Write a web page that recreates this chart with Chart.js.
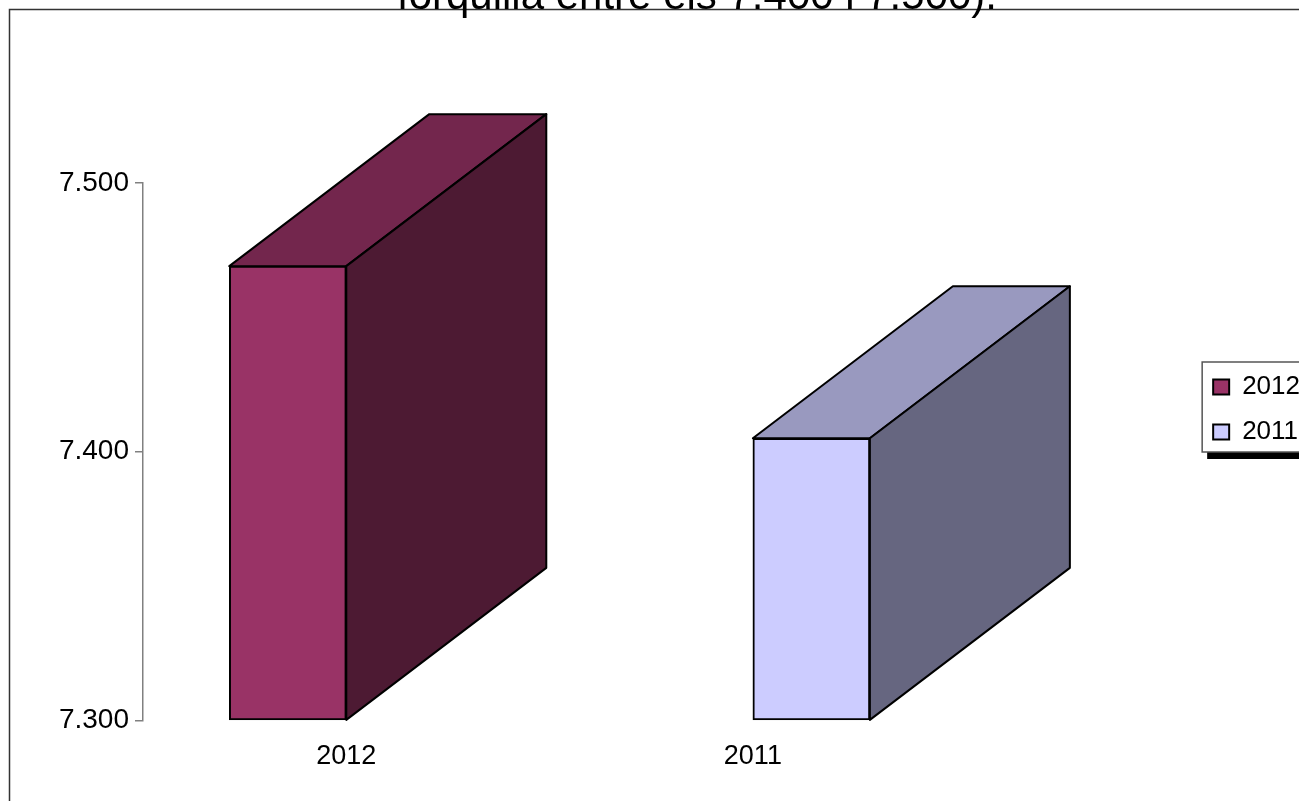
<!DOCTYPE html>
<html>
<head>
<meta charset="utf-8">
<script src="https://cdn.jsdelivr.net/npm/chart.js@4/dist/chart.umd.min.js"></script>
<style>
    body { margin: 0; background: #ffffff; overflow: hidden; }
    #wrap { width: 1394px; height: 801px; }
</style>
</head>
<body>
<div id="wrap"><canvas id="chart3d" width="1394" height="801"></canvas></div>
<script>
const categories = ['2012', '2011'];
const values = [7469, 7405];
const yTicks = [7300, 7400, 7500];
const titleText = 'forquilla entre els 7.400 i 7.500).';

const frontColors = ['#993366', '#CCCCFF'];
const topColors = ['#73264D', '#9999BF'];
const sideColors = ['#4D1A33', '#666680'];

function formatThousands(v) {
    return String(Math.round(v)).replace(/\B(?=(\d{3})+(?!\d))/g, '.');
}

// fake 3d depth: top + side faces behind each bar's front face
const depthX = 200;
const depthY = -152;
const barDepth = {
    id: 'barDepth',
    beforeDatasetsDraw(chart) {
        const ctx = chart.ctx;
        chart.data.datasets.forEach((ds, di) => {
            const meta = chart.getDatasetMeta(di);
            meta.data.forEach((bar, i) => {
                if (ds.data[i] === null) return;
                const p = bar.getProps(['x', 'y', 'base', 'width'], true);
                const l = p.x - p.width / 2;
                const r = p.x + p.width / 2;
                ctx.save();
                ctx.lineWidth = 2;
                ctx.strokeStyle = '#000000';
                ctx.lineJoin = 'round';
                ctx.beginPath();
                ctx.moveTo(l, p.y);
                ctx.lineTo(l + depthX, p.y + depthY);
                ctx.lineTo(r + depthX, p.y + depthY);
                ctx.lineTo(r, p.y);
                ctx.closePath();
                ctx.fillStyle = topColors[di];
                ctx.fill();
                ctx.stroke();
                ctx.beginPath();
                ctx.moveTo(r, p.y);
                ctx.lineTo(r + depthX, p.y + depthY);
                ctx.lineTo(r + depthX, p.base + depthY);
                ctx.lineTo(r, p.base);
                ctx.closePath();
                ctx.fillStyle = sideColors[di];
                ctx.fill();
                ctx.stroke();
                ctx.restore();
            });
        });
    }
};

// outer frame and legend box with shadow; title centred on the whole chart
const frames = {
    id: 'frames',
    afterLayout(chart) {
        if (chart.titleBlock) {
            chart.titleBlock.left = 0;
            chart.titleBlock.right = chart.width;
        }
    },
    beforeDraw(chart) {
        const ctx = chart.ctx;
        ctx.save();
        ctx.strokeStyle = '#333333';
        ctx.lineWidth = 1.5;
        ctx.strokeRect(9.5, 9.5, 2000, 2000);

        const boxes = chart.legend.legendHitBoxes;
        if (boxes && boxes.length) {
            const first = boxes[0];
            const last = boxes[boxes.length - 1];
            const left = first.left - 11;
            const top = first.top - 12;
            const w = 115;
            const h = last.top + last.height + 7 - top;
            ctx.fillStyle = '#000000';
            ctx.fillRect(left + 5, top + 7, w, h);
            ctx.fillStyle = '#ffffff';
            ctx.fillRect(left, top, w, h);
            ctx.strokeStyle = '#555555';
            ctx.lineWidth = 1.5;
            ctx.strokeRect(left, top, w, h);
        }
        ctx.restore();
    }
};

Chart.defaults.font.family = "'Liberation Sans', Arial, sans-serif";
Chart.defaults.color = '#000000';

const datasets = categories.map((name, i) => ({
    label: name,
    data: categories.map((_, j) => (j === i ? values[i] : null)),
    base: yTicks[0],
    backgroundColor: frontColors[i],
    borderColor: '#000000',
    borderWidth: 2,
    borderSkipped: false,
    barThickness: 117,
}));

new Chart(document.getElementById('chart3d'), {
    type: 'bar',
    data: { labels: categories, datasets: datasets },
    options: {
        responsive: false,
        animation: false,
        layout: { padding: { left: 0, right: 84, top: 0, bottom: 8 } },
        plugins: {
            title: {
                display: true,
                text: titleText,
                font: { size: 42, weight: 'normal' },
                color: '#000000',
                padding: { top: -28, bottom: 160.4 },
            },
            legend: {
                position: 'right',
                title: { display: true, text: '', font: { size: 20 }, padding: 1 },
                labels: {
                    font: { size: 26 },
                    boxWidth: 16,
                    boxHeight: 15,
                    padding: 19,
                    color: '#000000',
                },
            },
            tooltip: { enabled: false },
        },
        scales: {
            x: {
                grid: { display: false, drawTicks: false },
                border: { display: false },
                ticks: { padding: 20, font: { size: 27 } },
            },
            y: {
                min: yTicks[0],
                max: yTicks[yTicks.length - 1],
                afterBuildTicks(axis) {
                    axis.ticks = yTicks.map((v) => ({ value: v }));
                },
                afterFit(axis) {
                    axis.width = 143;
                },
                grid: { drawOnChartArea: false, color: '#808080', tickLength: 8, lineWidth: 1.5 },
                border: { color: '#808080', width: 1.5 },
                ticks: {
                    padding: 6,
                    font: { size: 28 },
                    callback: (v) => formatThousands(v),
                },
            },
            y2: {
                position: 'right',
                grid: { display: false, drawTicks: false },
                border: { display: false },
                ticks: { display: false },
                afterFit(axis) {
                    axis.width = 238;
                },
            },
        },
    },
    plugins: [frames, barDepth],
});
</script>
</body>
</html>
